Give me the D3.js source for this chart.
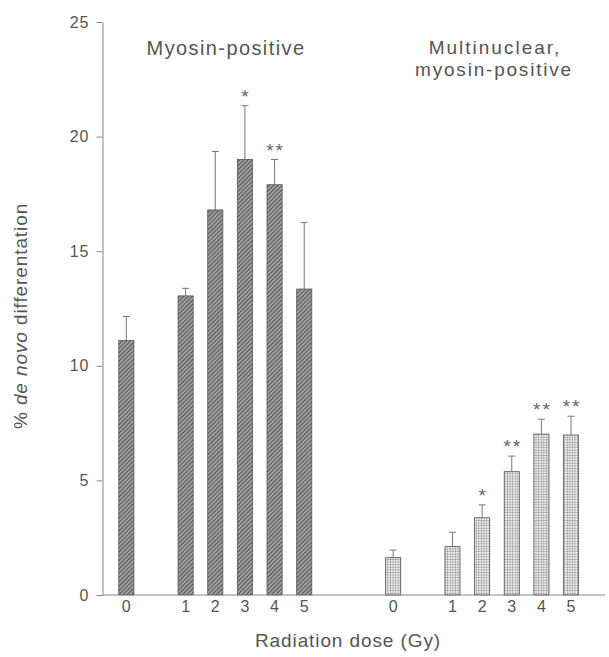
<!DOCTYPE html>
<html>
<head>
<meta charset="utf-8">
<script src="https://cdn.jsdelivr.net/npm/d3@7"></script>
<style>
  body { margin: 0; background: #fff; }
  svg text { font-family: "Liberation Sans", Arial, sans-serif; fill: #555; }
</style>
</head>
<body>
<svg id="chart"></svg>
<script>
// values
let doses = ["0", "1", "2", "3", "4", "5"];
let myosinMean = [11.1, 13.05, 16.8, 19.0, 17.9, 13.35];
let myosinErr = [1.05, 0.33, 2.55, 2.35, 1.1, 2.9];
let myosinStars = ["", "", "", "*", "**", ""];
let multiMean = [1.63, 2.11, 3.37, 5.38, 7.02, 6.98];
let multiErr = [0.33, 0.63, 0.56, 0.68, 0.65, 0.82];
let multiStars = ["", "", "*", "**", "**", "**"];
let yTicks = [0, 5, 10, 15, 20, 25];

window.addEventListener('load', e => {
    drawChart();
});

function drawChart() {
    let width = 609;
    let height = 657;

    let svg = d3.select("#chart")
                .attr("width", width)
                .attr("height", height);

    // slot layout: dose 0, gap, doses 1-5, two empty slots, second group the same way
    let slots = [];
    ["A", "B"].forEach((g, gi) => {
        slots.push(g + "0", g + "gap");
        doses.slice(1).forEach(d => slots.push(g + d));
        if (gi == 0) slots.push("sep1", "sep2");
    });

    let xScale = d3.scaleBand()
                   .domain(slots)
                   .range([111.5, 585.9])
                   .paddingInner(0.49)
                   .paddingOuter(0.245);

    let yScale = d3.scaleLinear()
                   .domain([0, 25])
                   .range([595, 22]);

    let defs = svg.append("defs");
    let hatch = defs.append("pattern")
                    .attr("id", "hatch")
                    .attr("patternUnits", "userSpaceOnUse")
                    .attr("width", 3).attr("height", 3)
                    .attr("patternTransform", "rotate(45)");
    hatch.append("rect").attr("width", 3).attr("height", 3).attr("fill", "#a0a0a0");
    hatch.append("line").attr("x1", 0).attr("y1", 0).attr("x2", 0).attr("y2", 3)
         .attr("stroke", "#474747").attr("stroke-width", 1.7);

    let grid = defs.append("pattern")
                   .attr("id", "grid")
                   .attr("patternUnits", "userSpaceOnUse")
                   .attr("width", 2.6).attr("height", 2.6);
    grid.append("rect").attr("width", 2.6).attr("height", 2.6).attr("fill", "#f0f0f0");
    grid.append("path").attr("d", "M0,0H2.6M0,0V2.6")
        .attr("stroke", "#7a7a7a").attr("stroke-width", 0.9).attr("fill", "none");

    let groups = [
        { key: "A", mean: myosinMean, err: myosinErr, stars: myosinStars, fill: "url(#hatch)" },
        { key: "B", mean: multiMean, err: multiErr, stars: multiStars, fill: "url(#grid)" }
    ];

    groups.forEach(g => {
        let rows = doses.map((d, i) => ({ slot: g.key + d, mean: g.mean[i], err: g.err[i], star: g.stars[i] }));
        let grp = svg.append("g");

        grp.selectAll(".err")
           .data(rows)
           .enter()
           .append("line")
           .attr("x1", d => xScale(d.slot) + xScale.bandwidth() / 2)
           .attr("x2", d => xScale(d.slot) + xScale.bandwidth() / 2)
           .attr("y1", d => yScale(d.mean))
           .attr("y2", d => yScale(d.mean + d.err))
           .attr("stroke", "#777").attr("stroke-width", 1);

        grp.selectAll(".cap")
           .data(rows)
           .enter()
           .append("line")
           .attr("x1", d => xScale(d.slot) + xScale.bandwidth() / 2 - 3.5)
           .attr("x2", d => xScale(d.slot) + xScale.bandwidth() / 2 + 3.5)
           .attr("y1", d => yScale(d.mean + d.err))
           .attr("y2", d => yScale(d.mean + d.err))
           .attr("stroke", "#777").attr("stroke-width", 1);

        grp.selectAll(".bar")
           .data(rows)
           .enter()
           .append("rect")
           .attr("x", d => xScale(d.slot))
           .attr("y", d => yScale(d.mean))
           .attr("width", xScale.bandwidth())
           .attr("height", d => yScale(0) - yScale(d.mean))
           .attr("fill", g.fill)
           .attr("stroke", "#555").attr("stroke-width", 0.8);

        grp.selectAll(".star")
           .data(rows.filter(d => d.star))
           .enter()
           .append("text")
           .attr("x", d => xScale(d.slot) + xScale.bandwidth() / 2 + 1)
           .attr("y", d => yScale(d.mean + d.err) - 3)
           .attr("text-anchor", "middle")
           .attr("font-size", 19)
           .attr("letter-spacing", 2)
           .style("fill", "#666")
           .text(d => d.star);
    });

    // y axis
    let yAxis = svg.append("g")
       .attr("transform", "translate(102.5,0)")
       .call(d3.axisLeft(yScale).tickValues(yTicks).tickSize(6).tickSizeOuter(0).tickPadding(7));
    yAxis.selectAll("path, line").attr("stroke", "#888");
    yAxis.selectAll("text").attr("font-size", 16).attr("letter-spacing", 1).style("fill", "#555");

    // x axis: labels only, baseline drawn across the plot
    let xAxis = svg.append("g")
       .attr("transform", "translate(0," + yScale(0) + ")")
       .call(d3.axisBottom(xScale)
               .tickValues(slots.filter(s => s[0] == "A" || s[0] == "B").filter(s => !s.endsWith("gap")))
               .tickFormat(s => s.slice(1))
               .tickSize(0).tickPadding(6));
    xAxis.select(".domain").remove();
    xAxis.selectAll("text").attr("font-size", 16).style("fill", "#555");

    svg.append("line")
       .attr("x1", 102.5).attr("x2", 605)
       .attr("y1", yScale(0)).attr("y2", yScale(0))
       .attr("stroke", "#888").attr("stroke-width", 1);

    // titles
    let label = (x, y, txt, size, ls) => svg.append("text")
       .attr("x", x).attr("y", y)
       .attr("text-anchor", "middle")
       .attr("font-size", size)
       .attr("letter-spacing", ls)
       .text(txt);

    label(226, 55, "Myosin-positive", 20, 1.4);
    label(495, 54, "Multinuclear,", 19, 2);
    label(494, 76, "myosin-positive", 19, 1.8);
    label(348, 647, "Radiation dose (Gy)", 19, 0.9);

    let yl = svg.append("text")
       .attr("transform", "translate(27,316) rotate(-90)")
       .attr("text-anchor", "middle")
       .attr("font-size", 19)
       .attr("letter-spacing", 0.9);
    yl.append("tspan").text("% ");
    yl.append("tspan").attr("font-style", "italic").text("de novo");
    yl.append("tspan").text(" differentation");
}
</script>
</body>
</html>
